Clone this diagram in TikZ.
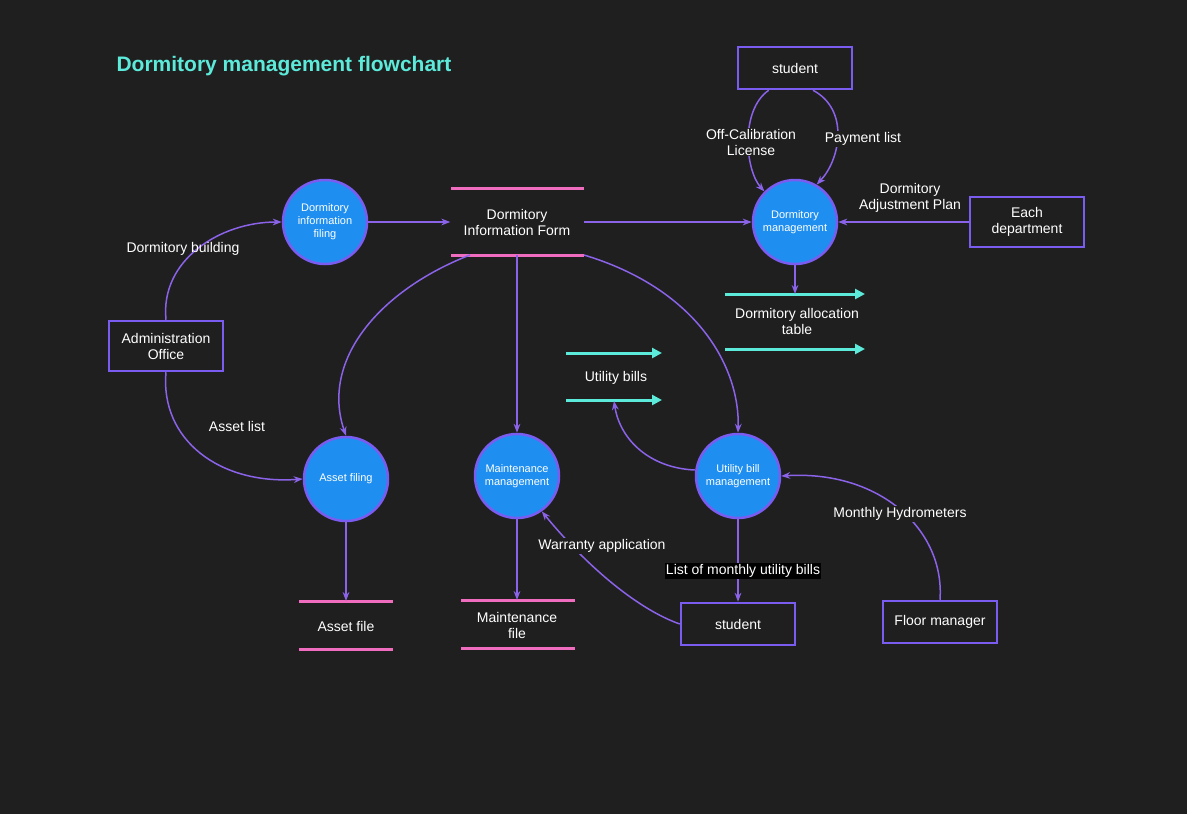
\documentclass[tikz,border=0pt]{standalone}
\usepackage{fontspec}
\setmainfont{Liberation Sans}
\usetikzlibrary{arrows.meta}
\definecolor{bg}{HTML}{1F1F1F}
\definecolor{pur}{HTML}{7B5CF0}
\definecolor{lnk}{HTML}{8A63E8}
\definecolor{blu}{HTML}{1E8FF0}
\definecolor{pnk}{HTML}{F06CBF}
\definecolor{cya}{HTML}{5CEADA}
\begin{document}
\begin{tikzpicture}[x=1pt,y=-1pt,
 proc/.style={circle,draw=pur,line width=2.5pt,fill=blu,minimum size=84pt,inner sep=0pt,align=center,text=white,font=\fontsize{11}{13}\selectfont},
 ent/.style={draw=pur,line width=2.5pt,minimum width=114pt,minimum height=42pt,align=center,text=white,font=\fontsize{14}{16}\selectfont},
 lab/.style={text=white,align=center,font=\fontsize{14}{16}\selectfont},
 store/.style={draw=pnk,line width=3pt},
 flow/.style={draw=cya,line width=3pt,-{Triangle[length=10pt,width=10pt]}},
 con/.style={draw=lnk,line width=1.5pt,-{Stealth[length=9pt]}}]
\fill[bg] (0,0) rectangle (1187,814);
\useasboundingbox (0,0) rectangle (1187,814);
\node[anchor=west,text=cya,font=\bfseries\fontsize{21}{24}\selectfont] (title) at (113,66) {Dormitory management flowchart};
% processes
\node[proc] (c1) at (325,222) {Dormitory\\information\\filing};
\node[proc] (c2) at (795,222) {Dormitory\\management};
\node[proc] (c3) at (346,479) {Asset filing};
\node[proc] (c4) at (517,476) {Maintenance\\management};
\node[proc] (c5) at (738,476) {Utility bill\\management};
% entities
\node[ent] (st1) at (795,68) {student};
\node[ent,minimum height=50pt] (dep) at (1027,222) {Each\\department};
\node[ent,minimum height=50pt] (adm) at (166,346) {Administration\\Office};
\node[ent] (st2) at (738,624) {student};
\node[ent] (fm) at (940,622) {Floor manager};
% stores
\draw[store] (451,188) -- (584,188); \draw[store] (451,255) -- (584,255);
\node[lab,minimum width=133pt,minimum height=60pt] (form) at (517,222) {Dormitory\\Information Form};
\draw[store] (299,601) -- (393,601); \draw[store] (299,649) -- (393,649);
\node[lab] (af) at (346,626) {Asset file};
\draw[store] (461,600) -- (575,600); \draw[store] (461,648) -- (575,648);
\node[lab] (mf) at (517,625) {Maintenance\\file};
% data flows
\coordinate (a1) at (725,294); \coordinate (a2) at (865,294);
\coordinate (a3) at (725,349); \coordinate (a4) at (865,349);
\draw[flow] (a1) -- (a2); \draw[flow] (a3) -- (a4);
\node[lab] (dat) at (797,321) {Dormitory allocation\\table};
\coordinate (u1) at (566,353); \coordinate (u2) at (662,353);
\coordinate (u3) at (566,400); \coordinate (u4) at (662,400);
\draw[flow] (u1) -- (u2); \draw[flow] (u3) -- (u4);
\node[lab] (ub) at (616,378) {Utility bills};
\coordinate (ubt) at (614,401);
\coordinate (dtop) at (795,294);
% connectors
\draw[con] (adm.north) .. controls (160,260) and (220,222) .. (c1.west);
\node[lab] at (183,249) {Dormitory building};
\draw[con] (c1.east) -- (form.west);
\draw[con] (form.east) -- (c2.west);
\draw[con] (st1.south west) ++(32,0) .. controls (740,110) and (745,170) .. (c2.north west);
\node[lab,fill=bg,inner sep=1pt] at (751,142) {Off-Calibration\\License};
\draw[con] (st1.south) ++(18,0) .. controls (850,110) and (840,160) .. (c2.60);
\node[lab,fill=bg,inner sep=1pt] at (863,139) {Payment list};
\draw[con] (dep.west) -- (c2.east);
\node[lab] at (910,198) {Dormitory\\Adjustment Plan};
\draw[con] (c2.south) -- (dtop);
\draw[con] (470,255) .. controls (380,290) and (320,360) .. (c3.north);
\draw[con] (517,255) -- (c4.north);
\draw[con] (584,255) .. controls (700,290) and (740,370) .. (c5.north);
\draw[con] (adm.south) .. controls (160,440) and (220,485) .. (c3.west);
\node[lab] at (237,426) {Asset list};
\draw[con] (c3.south) -- (af.north |- 0,601);
\draw[con] (c4.south) -- (517,600);
\draw[con] (c5.west) ++(0,-6) .. controls (650,468) and (620,440) .. (ubt);
\draw[con] (c5.south) -- (st2.north);
\node[lab,fill=black,inner sep=1pt] at (743,571) {List of monthly utility bills};
\draw[con] (st2.west) .. controls (640,610) and (590,570) .. (c4.-55);
\node[lab,fill=bg,inner sep=1pt] at (602,546) {Warranty application};
\draw[con] (fm.north) .. controls (945,530) and (880,470) .. (c5.east);
\node[lab,fill=bg,inner sep=1pt] at (900,514) {Monthly Hydrometers};
\end{tikzpicture}
\end{document}
